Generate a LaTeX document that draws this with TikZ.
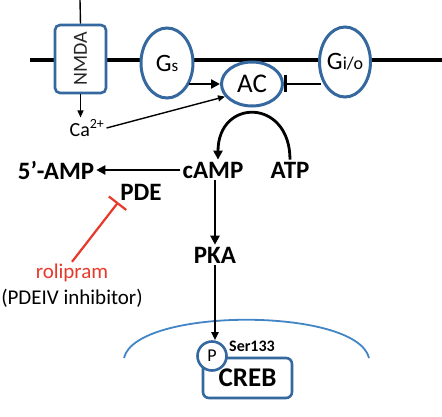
\documentclass[tikz,border=0pt]{standalone}
\usepackage{fontspec}
\setmainfont{Carlito}
\usetikzlibrary{arrows.meta,shapes.geometric}

\definecolor{protblue}{RGB}{52,104,158}
\definecolor{nucblue}{RGB}{66,133,196}
\definecolor{inhred}{RGB}{232,56,42}

\begin{document}
\begin{tikzpicture}[x=1pt,y=1pt]
\tikzset{
  protein/.style={ellipse,draw=protblue,line width=3pt,fill=white,inner sep=0pt,font=\fontsize{25}{28}\selectfont},
  boxed/.style={rectangle,rounded corners=5pt,draw=protblue,line width=2.6pt,fill=white,inner sep=0pt},
  molecule/.style={font=\fontsize{25}{28}\selectfont\bfseries,inner sep=2pt},
  plain/.style={font=\fontsize{21}{24}\selectfont,inner sep=2pt},
  bigarrow/.style={-{Triangle[length=9pt,width=9pt]},line width=2.8pt},
  thinarrow/.style={-{Triangle[length=7pt,width=6pt]},line width=1.4pt},
  blocked/.style={-{Bar[width=17pt,line width=2.8pt]},line width=2.8pt}
}
\useasboundingbox (0,0) rectangle (442,416);
% membrane
\draw[line width=4pt] (30,356) -- (442,356);
% receptors and enzymes
\node[boxed,minimum width=51pt,minimum height=68pt] (nmda) at (80.5,357) {};
\node[rotate=90,font=\fontsize{20}{22}\selectfont,text=black!85] at (nmda) {NMDA};
\node[protein,minimum width=52pt,minimum height=70pt] (gs) at (167,353) {G{\fontsize{17}{18}\selectfont s}};
\node[protein,minimum width=50pt,minimum height=70pt] (gio) at (345,354) {G{\fontsize{18}{19}\selectfont i/o}};
\node[protein,minimum width=61pt,minimum height=44pt,font=\fontsize{27}{30}\selectfont] (ac) at (252,332) {AC};
\node[plain,font=\fontsize{20}{22}\selectfont] (ca) at (87,288) {Ca\textsuperscript{2+}};
% second messengers
\node[molecule] (camp) at (213,246) {cAMP};
\node[molecule] (atp) at (290,246) {ATP};
\node[molecule] (amp) at (56,246) {5’-AMP};
\node[molecule] (pde) at (141,224) {PDE};
\node[molecule] (pka) at (215,161) {PKA};
\node[plain,text=inhred] (roli) at (72,143) {rolipram};
\node[plain] (pdeiv) at (72,118) {(PDEIV inhibitor)};
% nucleus
\draw[nucblue,line width=1.8pt] (124,58) .. controls (136,109) and (357,109) .. (369,58);
\node[boxed,rounded corners=6pt,minimum width=89pt,minimum height=40pt,font=\fontsize{27}{30}\selectfont\bfseries] (creb) at (247.5,38) {CREB};
\node[circle,draw=protblue,line width=2.6pt,fill=white,minimum size=29pt,inner sep=0pt,font=\fontsize{18}{20}\selectfont] (p) at (212,60) {P};
\node[font=\fontsize{16}{18}\selectfont\bfseries] (ser) at (252,70) {Ser133};
% connectors
\draw[line width=1.4pt] (80,416) -- (nmda.north);
\draw[thinarrow] (nmda.south) -- (nmda.south |- ca.north);
\draw[thinarrow] (ca.east) -- (ac.205);
\draw[bigarrow] ([xshift=-6pt]ac.west -| gs.east) -- (ac.west);
\draw[blocked] ([xshift=3pt]ac.east -| gio.west) -- (ac.east);
\draw[bigarrow] (atp.north) to[out=90,in=90,looseness=2.2] ([xshift=5pt]camp.north);
\draw[bigarrow] (camp.west) -- (amp.east);
\draw[bigarrow] (pka.north |- camp.south) -- (pka.north);
\draw[inhred,line width=2.2pt,-{Bar[width=22pt,line width=2.2pt]}] (roli.north) -- (pde.south west);
\draw[-{Triangle[length=8pt,width=7pt]},line width=1.8pt] (pka.south) -- (pka.south |- p.north);
\end{tikzpicture}
\end{document}
